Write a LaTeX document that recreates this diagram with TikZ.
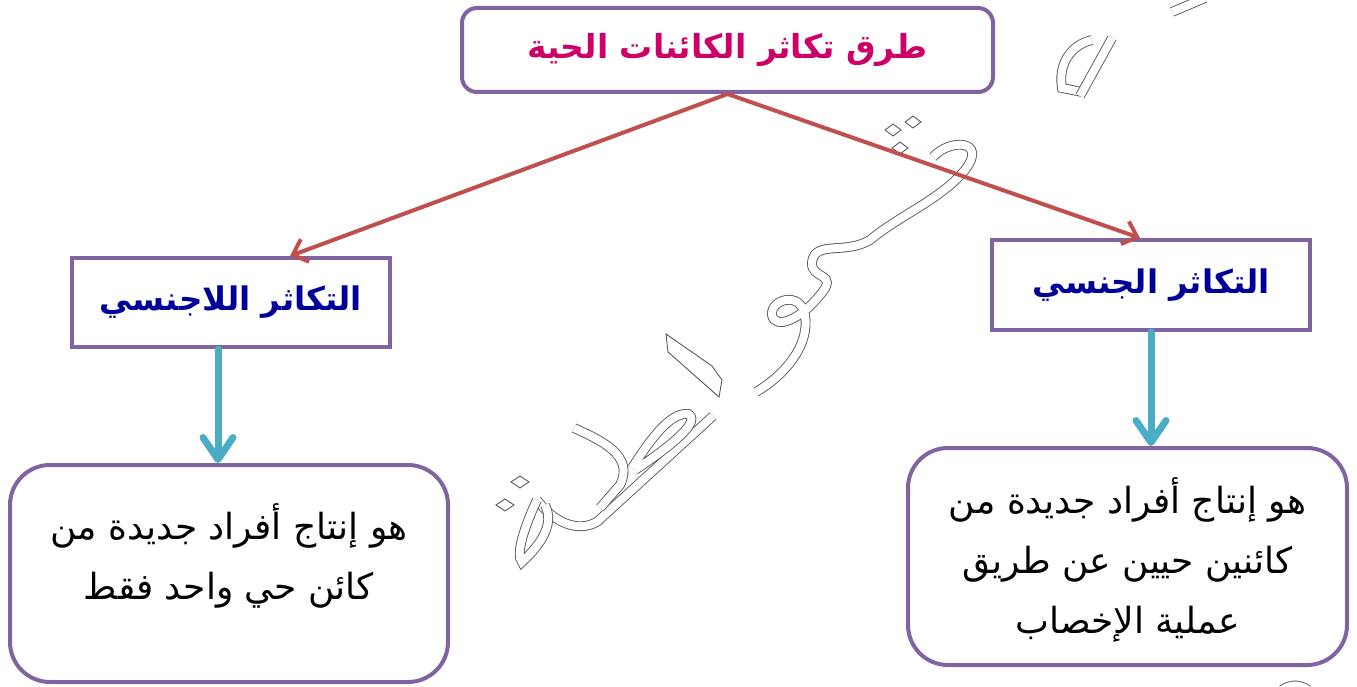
\documentclass[tikz,border=0pt]{standalone}
\usepackage{fontspec}
\usetikzlibrary{arrows.meta,calc}
\TeXXeTstate=1
\newfontfamily\arabicfont[Script=Arabic]{DejaVu Sans}
\definecolor{boxpurple}{HTML}{8064A2}
\definecolor{linered}{HTML}{C0504D}
\definecolor{arrowblue}{HTML}{4BACC6}
\definecolor{titlecrimson}{HTML}{CC0066}
\definecolor{headblue}{HTML}{000099}
\begin{document}
\begin{tikzpicture}[x=1pt,y=-1pt,
  outerbox/.style={draw=boxpurple,line width=4pt,fill=white,inner sep=0pt},
  roundbox/.style={outerbox,rounded corners=40pt},
  headbox/.style={outerbox},
  titletext/.style={font=\arabicfont\bfseries\fontsize{33}{40}\selectfont,text=titlecrimson},
  headtext/.style={font=\arabicfont\bfseries\fontsize{32.5}{40}\selectfont,text=headblue},
  bodytext/.style={font=\arabicfont\fontsize{36}{60}\selectfont,align=center,inner sep=0pt},
  redarrow/.style={draw=linered,line width=4pt,-{Straight Barb[length=13pt,width=24pt]}},
  bluearrow/.style={draw=arrowblue,line width=7pt,-{Straight Barb[length=22pt,width=30pt,round]},line cap=round},
  wm/.style={draw=black!65,line width=0.9pt,double=white,double distance=8pt},
  wmdot/.style={draw=black!65,line width=0.9pt,fill=white}
]
\useasboundingbox (0,0) rectangle (1357,687);
% watermark (outlined calligraphy)
\draw[wm] (933,157) .. controls (950,138) and (988,140) .. (965,170) .. controls (940,200) and (900,215) .. (870,240) .. controls (845,255) and (815,240) .. (812,262) .. controls (810,280) and (840,272) .. (820,295) .. controls (800,320) and (775,330) .. (772,315) .. controls (770,300) and (800,290) .. (805,315) .. controls (810,345) and (785,375) .. (756,392);
\foreach \p in {(893,130),(913,122),(900,148)}
  \draw[wmdot] \p ++(-8,0) -- ++(8,-6) -- ++(8,6) -- ++(-8,6) -- cycle;
\draw[wmdot] (666,334) -- (668,352) -- (719,397) -- (722,380) -- (712,366) -- cycle;
\draw[wm] (713,416) -- (598,521) .. controls (585,530) and (560,530) .. (537,500);
\draw[wm] (632,468) .. controls (650,440) and (670,412) .. (688,414) .. controls (700,420) and (680,440) .. (635,470);
\draw[wm] (574,428) .. controls (600,440) and (635,455) .. (620,485) -- (600,508);
\draw[wm] (537,500) .. controls (525,525) and (515,555) .. (522,562) .. controls (540,545) and (555,525) .. (545,505);
\foreach \p in {(520,482),(505,505)}
  \draw[wmdot] \p ++(-9,0) -- ++(9,-6) -- ++(9,6) -- ++(-9,6) -- cycle;
\draw[wm] (1092,40) .. controls (1070,45) and (1058,65) .. (1062,88) -- (1082,92);
\draw[wm] (1112,38) -- (1080,96);
\draw[wm] (1172,12) -- (1205,-2);
\draw[wm] (1282,690) .. controls (1290,684) and (1300,684) .. (1308,690);
% boxes
\node[headbox,rounded corners=15pt,minimum width=531pt,minimum height=84pt] (top) at (727.5,50) {};
\node[titletext] at (top.center) {\beginR طرق تكاثر الكائنات الحية\endR};
\node[headbox,minimum width=318pt,minimum height=89pt] (asex) at (231,302.5) {};
\node[headtext] at (asex.center) {\beginR التكاثر اللاجنسي\endR};
\node[headbox,minimum width=318pt,minimum height=90pt] (sex) at (1151,285) {};
\node[headtext] at (sex.center) {\beginR التكاثر الجنسي\endR};
\node[roundbox,minimum width=438pt,minimum height=217pt] (asexdef) at (229,573.5) {};
\node[bodytext] at ([yshift=18pt]asexdef.center) {\beginR هو إنتاج أفراد جديدة من\endR\\\beginR كائن حي واحد فقط\endR};
\node[roundbox,minimum width=439pt,minimum height=217pt] (sexdef) at (1127.5,556.5) {};
\node[bodytext] at ([yshift=-3pt]sexdef.center) {\beginR هو إنتاج أفراد جديدة من\endR\\\beginR كائنين حيين عن طريق\endR\\\beginR عملية الإخصاب\endR};
% connectors
\draw[redarrow] (top.south) -- ([xshift=59pt]asex.north);
\draw[redarrow] (top.south) -- ([xshift=-11pt]sex.north);
\draw[bluearrow] ([xshift=-13pt]asex.south) -- ([xshift=-11pt]asexdef.north);
\draw[bluearrow] (sex.south) -- ([xshift=23.5pt]sexdef.north);
\end{tikzpicture}
\end{document}
